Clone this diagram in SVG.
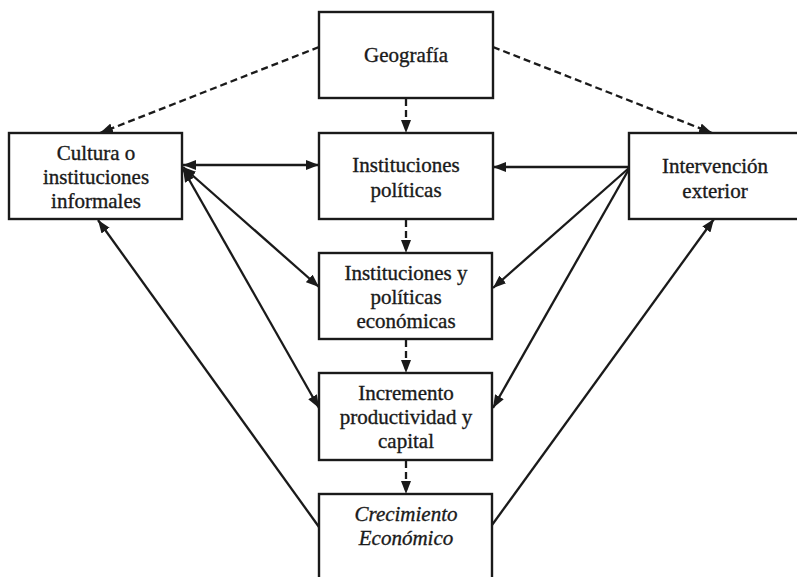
<svg xmlns="http://www.w3.org/2000/svg" width="797" height="577" viewBox="0 0 797 577">
<defs>
<style>
.box{fill:#fff;stroke:#1a1a1a;stroke-width:2.4}
.t{font-family:"Liberation Serif","Times New Roman",serif;font-size:21px;fill:#1a1a1a;stroke:#1a1a1a;stroke-width:0.35;text-anchor:middle}
.it{font-style:italic}
.c{fill:none;stroke:#1a1a1a;stroke-width:2.3}
.d{stroke-dasharray:7 4}
</style>
<marker id="ah" viewBox="0 0 13 10" refX="13" refY="5" markerWidth="13" markerHeight="10" markerUnits="userSpaceOnUse" orient="auto-start-reverse">
<path d="M0,0 L13,5 L0,10 z" fill="#1a1a1a"/>
</marker>
</defs>
<rect width="797" height="577" fill="#fff"/>
<g id="connectors">
<path class="c d" d="M319,47 L100,133" marker-end="url(#ah)"/>
<path class="c d" d="M493,47 L712,133" marker-end="url(#ah)"/>
<path class="c d" d="M406,99 L406,133" marker-end="url(#ah)"/>
<path class="c d" d="M406,220 L406,253" marker-end="url(#ah)"/>
<path class="c d" d="M406,340 L406,373" marker-end="url(#ah)"/>
<path class="c d" d="M406,461 L406,494" marker-end="url(#ah)"/>
<path class="c" d="M183,165 L319,165" marker-start="url(#ah)" marker-end="url(#ah)"/>
<path class="c" d="M183,167 L319,287" marker-start="url(#ah)" marker-end="url(#ah)"/>
<path class="c" d="M183,169 L319,408" marker-start="url(#ah)" marker-end="url(#ah)"/>
<path class="c" d="M629,167 L493,167" marker-end="url(#ah)"/>
<path class="c" d="M629,168 L493,288" marker-end="url(#ah)"/>
<path class="c" d="M629,169 L493,408" marker-end="url(#ah)"/>
<path class="c" d="M319,527 L98,220" marker-end="url(#ah)"/>
<path class="c" d="M492,525 L714,219" marker-end="url(#ah)"/>
</g>
<g id="geografia">
<rect class="box" x="319" y="12" width="174" height="86"/>
<text class="t" x="406" y="62">Geografía</text>
</g>
<g id="cultura">
<rect class="box" x="9" y="133" width="173" height="86"/>
<text class="t" x="96" y="160">Cultura o</text>
<text class="t" x="96" y="184">instituciones</text>
<text class="t" x="96" y="208">informales</text>
</g>
<g id="instituciones-politicas">
<rect class="box" x="319" y="133" width="174" height="86"/>
<text class="t" x="406" y="172">Instituciones</text>
<text class="t" x="406" y="197">políticas</text>
</g>
<g id="intervencion">
<rect class="box" x="629" y="133" width="172" height="86"/>
<text class="t" x="715" y="173">Intervención</text>
<text class="t" x="715" y="198">exterior</text>
</g>
<g id="instituciones-economicas">
<rect class="box" x="319" y="253" width="173" height="86"/>
<text class="t" x="406" y="280">Instituciones y</text>
<text class="t" x="406" y="304">políticas</text>
<text class="t" x="406" y="328">económicas</text>
</g>
<g id="incremento">
<rect class="box" x="319" y="373" width="173" height="87"/>
<text class="t" x="406" y="400">Incremento</text>
<text class="t" x="406" y="424">productividad y</text>
<text class="t" x="406" y="448">capital</text>
</g>
<g id="crecimiento">
<rect class="box" x="319" y="494" width="173" height="90"/>
<text class="t it" x="406" y="521">Crecimiento</text>
<text class="t it" x="406" y="545">Económico</text>
</g>
</svg>
